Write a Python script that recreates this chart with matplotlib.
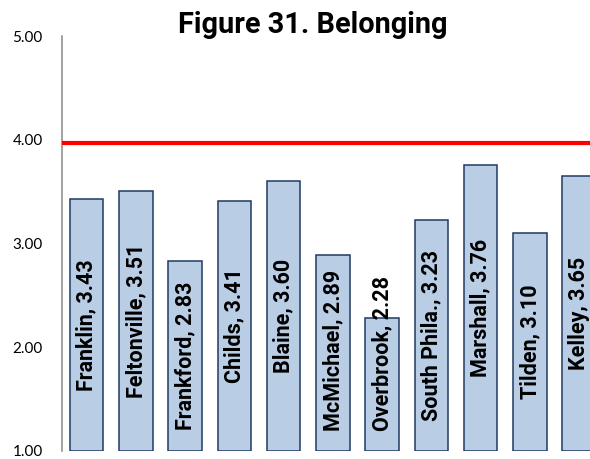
import matplotlib
matplotlib.use("Agg")
import matplotlib.pyplot as plt

# data
SCHOOLS = ["Franklin", "Feltonville", "Frankford", "Childs", "Blaine", "McMichael",
           "Overbrook", "South Phila.", "Marshall", "Tilden", "Kelley"]
SCORES = [3.43, 3.51, 2.83, 3.41, 3.60, 2.89, 2.28, 3.23, 3.76, 3.10, 3.65]
TARGET = 3.97
Y_TICKS = [1.0, 2.0, 3.0, 4.0, 5.0]

BAR_FACE = "#B9CDE5"
BAR_EDGE = "#1F3B63"
AXIS_GRAY = "#878787"
LABEL_FLOOR = 1.19
BOLD_FONT = ["Roboto", "DejaVu Sans"]

plt.rcParams["font.family"] = ["Lato", "DejaVu Sans"]

fig = plt.figure(figsize=(5.9, 4.59), dpi=100)
ax = fig.add_axes([62 / 590, 8 / 459, 541.75 / 590, 415 / 459])

x = list(range(len(SCHOOLS)))
heights = [v - 1.0 for v in SCORES]
ax.bar(x, heights, bottom=1.0, width=0.676, color=BAR_FACE,
       edgecolor=BAR_EDGE, linewidth=1.1, zorder=2)
ax.axhline(TARGET, color="#FF0000", linewidth=3.0, zorder=3)

ax.set_xlim(-0.5, len(SCHOOLS) - 0.5)
ax.set_ylim(1.0, 5.0)
ax.set_yticks(Y_TICKS, labels=[f"{t:.2f}" for t in Y_TICKS])
ax.set_xticks([])
ax.tick_params(axis="y", length=0, pad=14, labelsize=11)
for side in ("top", "right", "bottom"):
    ax.spines[side].set_visible(False)
ax.spines["left"].set_color(AXIS_GRAY)
ax.spines["left"].set_linewidth(1.1)

# labels centred in each bar, but kept above the floor near the base
texts = []
for xi, name, val in zip(x, SCHOOLS, SCORES):
    t = ax.text(xi, (1.0 + val) / 2, f"{name}, {val:.2f}", rotation=90,
                ha="center", va="center", fontsize=15.5, fontweight="bold",
                family=BOLD_FONT, color="black", zorder=4)
    texts.append(t)

fig.canvas.draw()
renderer = fig.canvas.get_renderer()
floor_px = ax.transData.transform((0, LABEL_FLOOR))[1]
for t in texts:
    bb = t.get_window_extent(renderer)
    if bb.y0 < floor_px:
        t.set_y(LABEL_FLOOR)
        t.set_va("bottom")

fig.text(313 / 590, 1 - 33 / 459, "Figure 31. Belonging", ha="center",
         va="baseline", fontsize=20.8, fontweight="bold", family=BOLD_FONT)

fig.savefig("out.png", dpi=100)
